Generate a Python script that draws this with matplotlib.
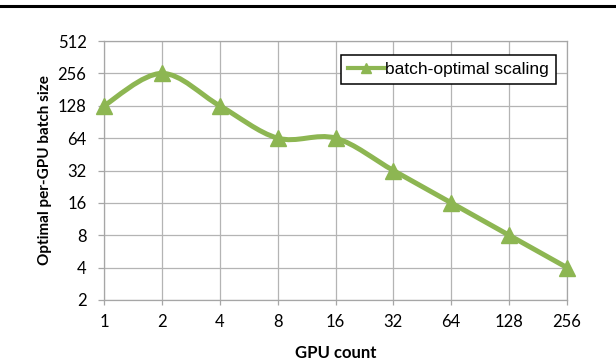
# -*- coding: utf-8 -*-
"""
Optimal per-GPU batch size vs GPU count (Excel-style smoothed line)
"""

import numpy as np
import matplotlib
matplotlib.use('Agg')
import matplotlib.pyplot as plt
from matplotlib.path import Path
from matplotlib.patches import PathPatch
from matplotlib.lines import Line2D

# data
gpu_labels = ['1', '2', '4', '8', '16', '32', '64', '128', '256']
batch_size = [128, 256, 128, 64, 64, 32, 16, 8, 4]
y_ticks    = [2, 4, 8, 16, 32, 64, 128, 256, 512]
series_lab = 'batch-optimal scaling'

# style
green   = '#8DB652'
gridc   = '#B4B4B4'
spinec  = '#A6A6A6'
lwidth  = 3.6
msize   = 12
tfont   = 'Lato'

plt.rcParams['font.family'] = tfont

fig = plt.figure(figsize=(6.16, 3.6), dpi=100)
ax = fig.add_axes([104/616, 1-300/360, 463/616, 259/360])

x = np.arange(len(batch_size))
ly = np.log2(batch_size)

#------------------------------------------------------------------------------
# smoothed line (Excel style bezier: control pts = P +/- (next - prev)/6)
verts = [(x[0], batch_size[0])]
codes = [Path.MOVETO]
n = len(x)
for i in range(n-1):
    i0 = max(i-1, 0)
    i3 = min(i+2, n-1)
    c1x = x[i] + (x[i+1]-x[i0])/6.
    c1y = ly[i] + (ly[i+1]-ly[i0])/6.
    c2x = x[i+1] - (x[i3]-x[i])/6.
    c2y = ly[i+1] - (ly[i3]-ly[i])/6.
    verts += [(c1x, 2**c1y), (c2x, 2**c2y), (x[i+1], batch_size[i+1])]
    codes += [Path.CURVE4]*3
curve = PathPatch(Path(verts, codes), facecolor='none', edgecolor=green,
                  linewidth=lwidth, capstyle='butt', joinstyle='round', zorder=3)
ax.add_patch(curve)

ax.plot(x, batch_size, linestyle='none', marker='^', markersize=msize,
        color=green, markeredgecolor=green, clip_on=False, zorder=4)

#------------------------------------------------------------------------------
# axes settings
ax.set_yscale('log', base=2)
ax.set_ylim(2, 512)
ax.set_xlim(0, len(x)-1)
ax.set_yticks(y_ticks)
ax.set_yticklabels([str(v) for v in y_ticks])
ax.yaxis.set_minor_locator(matplotlib.ticker.NullLocator())
ax.set_xticks(x)
ax.set_xticklabels(gpu_labels)
ax.grid(True, color=gridc, linewidth=0.9)
ax.set_axisbelow(True)
for s in ax.spines.values():
    s.set_color(spinec)
    s.set_linewidth(0.9)
ax.tick_params(axis='y', length=4.3, width=0.9, color=spinec, pad=8.3,
               labelsize=12)
ax.tick_params(axis='x', length=3.6, width=0.9, color=spinec, pad=6.5,
               labelsize=12)

ax.set_ylabel('Optimal per-GPU batch size', fontsize=11, fontweight='bold')
ax.yaxis.set_label_coords(-0.113, 0.5)
ax.set_xlabel('GPU count', fontsize=12, fontweight='bold')
ax.xaxis.set_label_coords(0.5, -0.172)

# legend
proxy = Line2D([], [], color=green, linewidth=3.0, marker='^',
               markersize=7, markeredgecolor=green)
leg = ax.legend([proxy], [series_lab], loc='upper right',
                bbox_to_anchor=(556/616, 1-55/360), bbox_transform=fig.transFigure,
                borderaxespad=0, fancybox=False, framealpha=1, edgecolor='k',
                handlelength=2.1, handletextpad=0.05, borderpad=0.4,
                prop={'family': 'Liberation Sans', 'size': 12.5})
leg.get_frame().set_linewidth(1.1)

# page rule at top (cropped from paper)
fig.add_artist(Line2D([0, 1], [1-5.5/360, 1-5.5/360], transform=fig.transFigure,
                      color='k', linewidth=2.2))

fig.savefig('out.png', dpi=100)
